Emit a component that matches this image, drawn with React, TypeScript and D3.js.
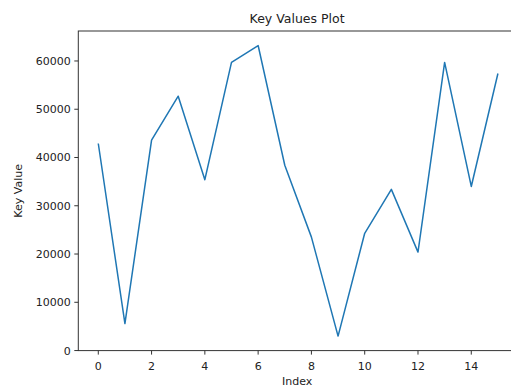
import React from "react";
import * as d3 from "d3";

const indices = d3.range(16);
const keyValues = [42900, 5600, 43600, 52700, 35400, 59700, 63200, 38400, 23500, 3000, 24300, 33400, 20400, 59700, 34000, 57400];
const xTicks = [0, 2, 4, 6, 8, 10, 12, 14];
const yTicks = [0, 10000, 20000, 30000, 40000, 50000, 60000];
const title = "Key Values Plot";
const xLabel = "Index";
const yLabel = "Key Value";

const W = 511;
const H = 388;
const left = 78.3;
const right = 517.9;
const top = 31;
const bottom = 350.6;

export default function App() {
  const xMin = d3.min(indices)!, xMax = d3.max(indices)!;
  const xPad = (xMax - xMin) * 0.05;
  const x = d3.scaleLinear().domain([xMin - xPad, xMax + xPad]).range([left, right]);
  const yMin = d3.min(keyValues)!, yMax = d3.max(keyValues)!;
  const yPad = (yMax - yMin) * 0.05;
  const y = d3.scaleLinear().domain([yMin - yPad, yMax + yPad]).range([bottom, top]);
  const line = d3.line<number>().x((_, i) => x(indices[i])).y((d) => y(d));
  const font = "DejaVu Sans, sans-serif";
  const textColor = "#222";
  return (
    <svg width={W} height={H} style={{ position: "absolute", left: 0, top: 0 }} fontFamily={font}>
      <rect width={W} height={H} fill="#fff" />
      <path d={line(keyValues) || ""} fill="none" stroke="#1f77b4" strokeWidth={1.5} strokeLinejoin="round" />
      <rect x={left} y={top} width={right - left} height={bottom - top} fill="none" stroke="#333" strokeWidth={1} />
      {xTicks.map((t) => (
        <g key={t}>
          <line x1={x(t)} x2={x(t)} y1={bottom} y2={bottom + 4} stroke="#333" strokeWidth={1} />
          <text x={x(t)} y={bottom + 19.5} textAnchor="middle" fontSize={11} fill={textColor}>{t}</text>
        </g>
      ))}
      {yTicks.map((t) => (
        <g key={t}>
          <line x1={left - 4} x2={left} y1={y(t)} y2={y(t)} stroke="#333" strokeWidth={1} />
          <text x={left - 7.5} y={y(t) + 4} textAnchor="end" fontSize={11} fill={textColor}>{t}</text>
        </g>
      ))}
      <text x={(left + right) / 2 - 1} y={top - 8} textAnchor="middle" fontSize={12.5} fill={textColor}>{title}</text>
      <text x={(left + right) / 2 - 1} y={bottom + 34} textAnchor="middle" fontSize={11} fill={textColor}>{xLabel}</text>
      <text transform={`translate(${22},${(top + bottom) / 2}) rotate(-90)`} textAnchor="middle" fontSize={11} fill={textColor}>{yLabel}</text>
    </svg>
  );
}
